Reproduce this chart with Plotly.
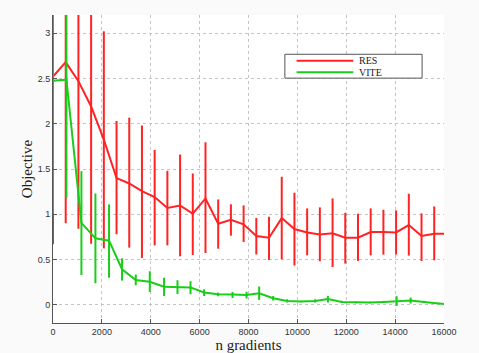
import plotly.graph_objects as go

# ---- data ----
red_x = [0, 520, 1040, 1560, 2080, 2600, 3120, 3640, 4160, 4680, 5200, 5720, 6240, 6760,
         7280, 7800, 8320, 8840, 9360, 9880, 10400, 10920, 11440, 11960, 12480, 13000,
         13520, 14040, 14560, 15080, 15600, 16000]
red_mean = [2.52, 2.68, 2.47, 2.19, 1.825, 1.40, 1.34, 1.256, 1.19, 1.07, 1.097, 1.008,
            1.175, 0.896, 0.94, 0.89, 0.76, 0.742, 0.958, 0.837, 0.80, 0.778, 0.79, 0.742,
            0.742, 0.804, 0.804, 0.80, 0.881, 0.76, 0.786, 0.786]
red_hi = [4.37, 4.46, 4.10, 3.70, 3.02, 2.03, 2.067, 1.98, 1.71, 1.48, 1.66, 1.45, 1.795,
          1.164, 1.11, 1.098, 0.96, 0.973, 1.414, 1.238, 1.065, 1.076, 1.175, 1.017, 1.006,
          1.065, 1.05, 1.043, 1.227, 1.01, 1.087, 0.786]
red_lo = [0.67, 0.90, 0.84, 0.676, 0.624, 0.78, 0.632, 0.518, 0.657, 0.657, 0.536, 0.55,
          0.573, 0.62, 0.764, 0.694, 0.557, 0.496, 0.503, 0.434, 0.547, 0.481, 0.418, 0.456,
          0.485, 0.547, 0.555, 0.555, 0.544, 0.485, 0.492, 0.786]

green_x = [0, 550, 1163, 1736, 2293, 2826, 3387, 3960, 4545, 5094, 5627, 6184, 6757, 7346,
           7920, 8436, 9009, 9582, 10156, 10729, 11249, 11822, 12396, 12969, 13542, 14062,
           14636, 15180, 16000]
green_mean = [2.475, 2.486, 0.905, 0.735, 0.709, 0.393, 0.275, 0.255, 0.20, 0.198, 0.193,
              0.136, 0.118, 0.114, 0.11, 0.129, 0.074, 0.044, 0.037, 0.044, 0.066, 0.033,
              0.026, 0.026, 0.033, 0.041, 0.048, 0.033, 0.011]
green_hi = [3.95, 3.79, 1.476, 1.23, 1.109, 0.514, 0.335, 0.371, 0.30, 0.272, 0.261, 0.172,
            0.136, 0.143, 0.145, 0.203, 0.098, 0.062, 0.045, 0.062, 0.10, 0.045, 0.035,
            0.035, 0.045, 0.096, 0.081, 0.045, 0.011]
green_lo = [1.0, 1.18, 0.33, 0.239, 0.30, 0.268, 0.217, 0.143, 0.098, 0.12, 0.118, 0.097,
            0.095, 0.075, 0.07, 0.055, 0.048, 0.026, 0.029, 0.026, 0.026, 0.021, 0.017,
            0.017, 0.021, -0.01, 0.015, 0.021, 0.011]

series_names = ["RES", "VITE"]
x_ticks = list(range(0, 16001, 2000))
x_tick_labels = [str(v) for v in x_ticks]
y_ticks = [0, 0.5, 1, 1.5, 2, 2.5, 3]
y_tick_labels = ["0", "0.5", "1", "1.5", "2", "2.5", "3"]

RED = "rgb(255,35,35)"
GREEN = "rgb(25,205,25)"

fig = go.Figure()


def add_series(xs, mean, hi, lo, name, color):
    fig.add_trace(go.Scatter(
        x=xs, y=mean, mode="lines", name=name,
        line=dict(color=color, width=2),
        error_y=dict(type="data", symmetric=False,
                     array=[h - m for h, m in zip(hi, mean)],
                     arrayminus=[m - l for m, l in zip(mean, lo)],
                     color=color, thickness=2, width=0),
        showlegend=False,
    ))


add_series(red_x, red_mean, red_hi, red_lo, series_names[0], RED)
add_series(green_x, green_mean, green_hi, green_lo, series_names[1], GREEN)

# custom legend box (matches the long legend lines of the reference)
lx0, lx1, ly0, ly1 = 0.593, 0.944, 0.795, 0.8725
fig.add_shape(type="rect", xref="paper", yref="paper", x0=lx0, x1=lx1, y0=ly0, y1=ly1,
              line=dict(color="#555", width=1), fillcolor="white", layer="above")
for i, (nm, col) in enumerate(zip(series_names, [RED, GREEN])):
    yy = 0.8515 - i * 0.037
    fig.add_shape(type="line", xref="paper", yref="paper", x0=0.623, x1=0.768, y0=yy, y1=yy,
                  line=dict(color=col, width=2), layer="above")
    fig.add_annotation(x=0.781, y=yy, xref="paper", yref="paper", text=nm, showarrow=False,
                       xanchor="left", yanchor="middle", borderpad=0,
                       font=dict(family="Liberation Serif", size=10, color="#222"))

axis_common = dict(
    showgrid=True, gridcolor="#c4c4c4", griddash="dot", gridwidth=1,
    zeroline=False, showline=True, linecolor="#555", linewidth=1,
    ticks="inside", ticklen=4, tickcolor="#555", automargin=False,
    tickfont=dict(family="Liberation Sans", size=9, color="#333"),
)

fig.update_xaxes(range=[0, 16000], tickvals=x_ticks, ticktext=x_tick_labels, **axis_common,
                 title=dict(text="n gradients", standoff=11,
                            font=dict(family="Liberation Serif", size=15, color="#222")))
fig.update_yaxes(range=[-0.2, 3.2], tickvals=y_ticks, ticktext=y_tick_labels, **axis_common,
                 title=dict(text="Objective", standoff=1,
                            font=dict(family="Liberation Serif", size=15, color="#222")))

fig.update_layout(
    width=479, height=353,
    margin=dict(l=53, r=35, t=15, b=30),
    paper_bgcolor="#fafafa", plot_bgcolor="white",
    showlegend=False,
)

fig.write_html("out.html", config={"displayModeBar": False},
               post_script="document.body.style.margin='0';document.body.style.overflow='hidden';")
